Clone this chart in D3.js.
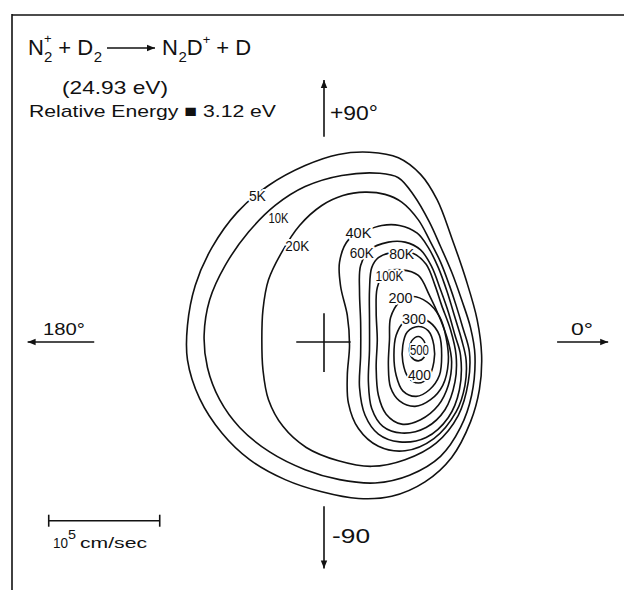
<!DOCTYPE html>
<meta charset="utf-8">
<script src="https://cdn.jsdelivr.net/npm/d3@7"></script>
<style>
  body { margin: 0; background: #fff; }
  text { font-family: "Liberation Sans", Arial, sans-serif; fill: #111; }
  .contour { fill: none; stroke: #111; stroke-width: 1.6px; }
  .lbl { font-size: 15px; stroke: #fff; stroke-width: 4px; paint-order: stroke; stroke-linejoin: round; }
  .ax { stroke: #111; stroke-width: 1.6px; }
</style>
<body>
<div id="viz"></div>
<script>
const width = 624, height = 590;

// contour levels, outermost first
const levels = ["5K", "10K", "20K", "40K", "60K", "80K", "100K", "200", "300", "400", "500"];

// contour outlines, c.m. velocity in 10^4 cm/sec [vx, vy]
const c5K = [[4.1,17.1],[6.7,16.6],[8.7,15.1],[10.2,12.8],[11.5,9.4],[12.8,5.6],[13.8,2.0],[14.2,-1.2],[14.0,-4.3],[13.2,-7.2],[11.5,-10.4],[9.1,-12.6],[6.1,-13.9],[3.1,-14.1],[-0.2,-13.5],[-3.5,-12.4],[-6.7,-10.6],[-9.2,-8.2],[-11.2,-5.1],[-12.3,-1.6],[-12.3,1.5],[-11.6,5.1],[-10.1,8.5],[-7.8,11.7],[-5.0,14.1],[-1.7,15.9],[1.3,16.9]];
const c10K = [[5.0,15.2],[6.7,14.8],[8.1,13.2],[9.5,10.8],[10.5,8.6],[11.5,6.3],[12.4,3.8],[13.2,1.3],[13.6,-1.2],[13.3,-4.8],[12.3,-7.7],[10.5,-10.3],[7.7,-12.0],[4.6,-12.7],[1.4,-12.4],[-1.7,-11.5],[-4.9,-9.9],[-7.6,-7.7],[-9.4,-5.2],[-10.5,-2.3],[-10.8,0.6],[-10.3,3.8],[-8.9,6.9],[-6.8,9.9],[-4.4,12.3],[-1.7,14.0],[1.6,15.0]];
const c20K = [[3.7,13.5],[5.5,13.3],[7.0,12.6],[8.5,11.0],[9.5,9.2],[10.5,7.2],[11.3,5.1],[11.9,3.3],[12.5,1.3],[13.1,-0.9],[13.0,-3.6],[12.1,-6.6],[10.1,-9.1],[7.3,-10.6],[4.3,-11.2],[1.3,-10.7],[-1.6,-9.5],[-3.7,-7.6],[-5.0,-5.2],[-5.5,-2.5],[-5.6,0.2],[-5.5,2.9],[-5.0,5.6],[-3.8,8.1],[-2.2,10.5],[-0.2,12.3],[1.7,13.2]];
const c40K = [[3.7,10.0],[5.2,10.5],[6.8,10.5],[8.4,9.8],[9.4,8.5],[10.3,6.7],[11.1,4.5],[11.8,2.2],[12.4,0.2],[12.8,-1.6],[12.7,-3.9],[11.9,-6.3],[9.9,-8.7],[7.3,-9.8],[4.9,-9.4],[3.1,-7.8],[2.2,-5.5],[2.1,-3.0],[2.3,-0.3],[2.1,2.4],[1.5,5.0],[1.4,7.2],[2.2,9.2]];
const c60K = [[4.1,8.3],[5.8,9.0],[7.3,9.0],[8.7,8.3],[9.7,6.8],[10.5,4.7],[11.2,2.7],[11.8,0.6],[12.3,-1.2],[12.2,-4.3],[11.2,-6.8],[9.2,-8.6],[6.8,-9.0],[4.9,-8.3],[3.7,-6.6],[3.2,-4.1],[3.3,-1.2],[3.3,1.8],[3.2,4.5],[3.3,6.9]];
const c80K = [[4.9,7.6],[6.4,8.1],[8.0,8.0],[9.2,7.0],[10.0,5.1],[10.6,3.3],[11.4,1.1],[11.9,-1.2],[11.8,-3.6],[10.9,-6.1],[9.2,-7.7],[7.0,-8.2],[5.3,-7.6],[4.3,-6.0],[4.0,-3.6],[4.1,-0.7],[4.1,2.0],[4.1,4.7],[4.3,6.7]];
const c100K = [[5.5,6.3],[7.0,6.5],[8.5,6.0],[9.5,4.2],[10.5,2.0],[11.2,0],[11.5,-1.8],[11.2,-3.9],[10.3,-5.7],[8.7,-7.0],[7.0,-7.4],[5.6,-6.5],[4.9,-4.8],[4.7,-2.3],[4.8,0.2],[4.7,2.7],[4.8,4.9]];
const c200 = [[7.9,4.1],[9.3,3.6],[10.4,2.3],[11.0,0.4],[11.2,-1.8],[10.7,-3.9],[9.6,-5.2],[8.2,-5.8],[6.8,-5.3],[6.0,-4.1],[5.8,-2.1],[5.9,0.2],[6.0,2.2],[6.8,3.6]];
const c300 = [[8.3,2.2],[9.5,1.8],[10.4,0.6],[10.6,-1.2],[10.4,-3.0],[9.5,-4.3],[8.3,-4.9],[7.1,-4.4],[6.5,-3.0],[6.3,-1.2],[6.5,0.6],[7.2,1.8]];
const c400 = [[8.5,1.4],[9.4,1.0],[9.9,-0.3],[9.9,-1.8],[9.4,-3.2],[8.5,-3.7],[7.6,-3.2],[7.1,-1.8],[7.1,-0.3],[7.5,0.9]];
const c500 = [[8.5,0.5],[9.0,0.1],[9.2,-0.6],[9.0,-1.4],[8.5,-1.7],[7.9,-1.4],[7.7,-0.6],[7.9,0.1]];
const contours = [c5K, c10K, c20K, c40K, c60K, c80K, c100K, c200, c300, c400, c500];

// where each level's number is written
const labelAt = [[-6.0,13.2],[-4.1,11.2],[-2.4,8.7],[3.1,9.9],[3.4,8.1],[7.0,8.0],[5.9,6.0],[6.9,4.0],[8.1,2.1],[8.6,-2.9],[8.6,-0.7]];
const labelLen = [17, 20, 24, 26, 24, 25, 28, 24, 24, 23, 19];

// axis arrows: direction (deg) and radial extent, 10^4 cm/sec
const arrows = [
  { ang: 180, r0: 20.7, r1: 26.7 },
  { ang: 0,   r0: 21.0, r1: 25.6 },
  { ang: 90,  r0: 18.5, r1: 23.6 },
  { ang: -90, r0: 14.8, r1: 20.4 }
];

const svg = d3.select("#viz").append("svg")
  .attr("width", width)
  .attr("height", height);

const x = d3.scaleLinear().domain([-10, 10]).range([213, 435]);
const y = d3.scaleLinear().domain([-10, 10]).range([453, 231]);

svg.append("defs").append("marker")
  .attr("id", "head")
  .attr("viewBox", "0 -5 10 10")
  .attr("refX", 10).attr("refY", 0)
  .attr("markerWidth", 11).attr("markerHeight", 8)
  .attr("markerUnits", "userSpaceOnUse")
  .attr("orient", "auto")
  .append("path").attr("d", "M0,-4L10,0L0,4Z").attr("fill", "#111");

// frame (only top and left survive in the scan)
svg.append("line").attr("class", "ax").attr("x1", 12).attr("y1", 15).attr("x2", width).attr("y2", 15).attr("stroke-width", 2.5);
svg.append("line").attr("class", "ax").attr("x1", 12).attr("y1", 14).attr("x2", 12).attr("y2", height).attr("stroke-width", 2);

const line = d3.line()
  .x(d => x(d[0]))
  .y(d => y(d[1]))
  .curve(d3.curveCatmullRomClosed.alpha(0.5));

svg.selectAll("path.contour")
  .data(contours)
  .enter().append("path")
  .attr("class", "contour")
  .attr("d", line);

// c.m. cross
svg.append("line").attr("class", "ax").attr("x1", x(-2.5)).attr("x2", x(2.4)).attr("y1", y(0)).attr("y2", y(0));
svg.append("line").attr("class", "ax").attr("x1", x(0)).attr("x2", x(0)).attr("y1", y(2.6)).attr("y2", y(-2.7));

svg.selectAll("line.arrow")
  .data(arrows)
  .enter().append("line")
  .attr("class", "ax arrow")
  .attr("x1", d => x(d.r0 * Math.cos(d.ang * Math.PI / 180)))
  .attr("y1", d => y(d.r0 * Math.sin(d.ang * Math.PI / 180)))
  .attr("x2", d => x(d.r1 * Math.cos(d.ang * Math.PI / 180)))
  .attr("y2", d => y(d.r1 * Math.sin(d.ang * Math.PI / 180)))
  .attr("marker-end", "url(#head)");

svg.selectAll("text.lbl")
  .data(levels)
  .enter().append("text")
  .attr("class", "lbl")
  .attr("x", (d, i) => x(labelAt[i][0]))
  .attr("y", (d, i) => y(labelAt[i][1]) + 5.5)
  .attr("text-anchor", "middle")
  .attr("textLength", (d, i) => labelLen[i])
  .attr("lengthAdjust", "spacingAndGlyphs")
  .text(d => d);

// scale bar, 10 units = 10^5 cm/sec
const barY = y(-16.1);
svg.append("line").attr("class", "ax").attr("x1", x(-24.8)).attr("x2", x(-14.8)).attr("y1", barY).attr("y2", barY).attr("stroke-width", 1.3);
[-24.8, -14.8].forEach(u => {
  svg.append("line").attr("class", "ax").attr("x1", x(u)).attr("x2", x(u)).attr("y1", barY - 6).attr("y2", barY + 6).attr("stroke-width", 1.3);
});

// reaction: N2+ + D2 -> N2D+ + D, written as two pieces around a drawn arrow
svg.append("line").attr("class", "ax").attr("x1", 107).attr("x2", 155).attr("y1", 48).attr("y2", 48).attr("marker-end", "url(#head)");

function formula(x0, parts) {
  const t = svg.append("text").attr("x", x0).attr("y", 55).style("font-size", "22px");
  parts.forEach(p => {
    t.append("tspan").attr("dx", p.dx || 0).attr("dy", p.dy || 0)
      .style("font-size", (p.s || 22) + "px").text(p.t);
  });
}
formula(28, [
  { t: "N" },
  { t: "+", s: 13, dy: -12 },
  { t: "2", s: 15, dx: -7.6, dy: 19 },
  { t: " + D", dy: -7 },
  { t: "2", s: 15, dx: 0.5, dy: 7 }
]);
formula(162, [
  { t: "N" },
  { t: "2", s: 15, dx: 0.5, dy: 7 },
  { t: "D", dy: -7 },
  { t: "+", s: 13, dy: -11 },
  { t: "  + D", dy: 11 }
]);

const notes = [
  { t: "(24.93 eV)", x: 62, y: 94, s: 19, len: 106 },
  { t: "Relative Energy \u25A0 3.12 eV", x: 29, y: 117, s: 17, len: 247 },
  { t: "+90\u00B0", x: 330, y: 120, s: 20, len: 48 },
  { t: "180\u00B0", x: 43, y: 335, s: 17, len: 42 },
  { t: "0\u00B0", x: 571, y: 335, s: 17, len: 22 },
  { t: "-90", x: 332, y: 543, s: 20, len: 38 },
  { t: "10", x: 53, y: 548, s: 14, len: 15 },
  { t: "5", x: 68, y: 539, s: 12, len: 8 },
  { t: "cm/sec", x: 80, y: 548, s: 14, len: 67 }
];

svg.selectAll("text.note")
  .data(notes)
  .enter().append("text")
  .attr("class", "note")
  .attr("x", d => d.x)
  .attr("y", d => d.y)
  .style("font-size", d => d.s + "px")
  .attr("textLength", d => d.len)
  .attr("lengthAdjust", "spacingAndGlyphs")
  .text(d => d.t);
</script>
</body>
